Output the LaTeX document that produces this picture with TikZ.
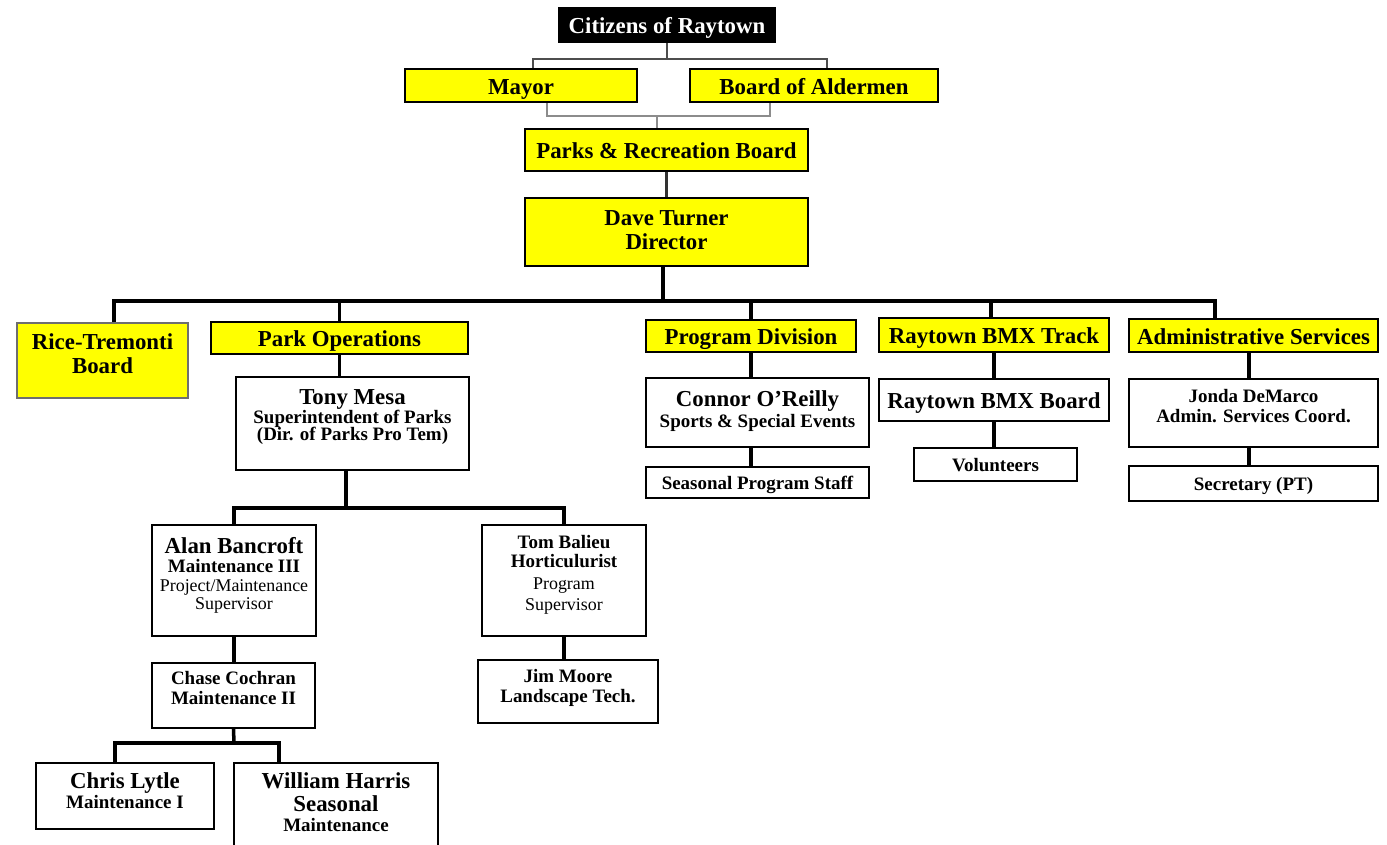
\documentclass[tikz,border=0pt]{standalone}
\usepackage{fontspec}
\setmainfont{Liberation Serif}
\usetikzlibrary{positioning}
\definecolor{ryellow}{HTML}{FFFF00}
\definecolor{dkline}{HTML}{4D4D4D}
\definecolor{ltline}{HTML}{8C8C8C}
\definecolor{riceedge}{HTML}{6E6E6E}
\newcommand{\bigfont}{\fontsize{13}{13.6}\selectfont\bfseries}
\newcommand{\smallfont}{\fontsize{10.8}{11}\selectfont\bfseries}
\newcommand{\plainfont}{\fontsize{10.2}{10.6}\selectfont\mdseries}

\begin{document}
\begin{tikzpicture}[x=0.02cm, y=-0.02cm,
  orgbox/.style={draw=black, line width=1.1pt, inner sep=1pt, align=center, font=\bigfont},
  yellowbox/.style={orgbox, fill=ryellow},
  whitebox/.style={orgbox, fill=white},
  sz/.style 2 args={minimum width=#1*0.02cm, minimum height=#2*0.02cm},
  bigline/.style={text height=11pt, text depth=0.8pt},
  smallline/.style={font=\smallfont, text height=9.2pt, text depth=0.8pt},
  topline/.style={dkline, line width=1pt},
  electline/.style={ltline, line width=1pt},
  midline/.style={black!80, line width=1.2pt},
  link/.style={black, line width=2pt}]

\useasboundingbox (0,0) rectangle (1387,845);
\clip (0,0) rectangle (1387,845);

% Top of the chart
\node[orgbox, bigline, fill=black, text=white, sz={216}{34}] (cit) at (667,25) {Citizens of Raytown};
\node[yellowbox, bigline, line width=1.6pt, sz={232}{33}] (mayor) at (521,85.5) {Mayor};
\node[yellowbox, bigline, line width=1.6pt, sz={248}{33}] (ald) at (814,85.5) {Board of Aldermen};
\node[yellowbox, bigline, sz={283}{42}] (prb) at (666.5,150) {Parks \& Recreation Board};
\node[yellowbox, sz={283}{68}] (dir) at (666.5,232) {Dave Turner\\Director\\[-11.3pt]};

\coordinate (citbar) at (667,59);
\coordinate (electbar) at (657,116);
\draw[topline] (cit.south) -- (citbar);
\draw[topline] ([xshift=0.24cm]mayor.north) |- (citbar) -| ([xshift=0.26cm]ald.north);
\draw[electline] ([xshift=0.52cm]mayor.south) |- (electbar) -| ([xshift=-0.88cm]ald.south);
\draw[electline] (electbar) -- (electbar |- prb.north);
\draw[midline] (prb.south) -- (dir.north);

% Divisions
\node[yellowbox, draw=riceedge, line width=0.8pt, sz={171}{75}] (rice) at (102.5,360.5) {Rice-Tremonti\\Board\\[-5.6pt]};
\node[yellowbox, bigline, sz={257}{32}] (parkops) at (339.5,338) {Park Operations};
\node[yellowbox, bigline, sz={210}{32}] (progdiv) at (751,336) {Program Division};
\node[yellowbox, bigline, sz={230}{34}] (bmxtrack) at (994,335) {Raytown BMX Track};
\node[yellowbox, bigline, sz={249}{33}] (admin) at (1253.5,335.5) {Administrative Services};

\coordinate (divbar) at (663,301);
\draw[link] (divbar |- dir.south) -- (divbar);
\draw[link] ([xshift=0.23cm]rice.north) |- (divbar) -| ([xshift=-0.77cm]admin.north);
\draw[link] (parkops.north) -- (parkops.north |- divbar);
\draw[link] (progdiv.north) -- (progdiv.north |- divbar);
\draw[link] ([xshift=-0.06cm]bmxtrack.north) -- ([xshift=-0.06cm]bmxtrack.north |- divbar);

% Park operations
\node[whitebox, sz={233}{93}] (tony) at (352.5,423.5)
  {Tony Mesa\\[-2.8pt]\smallfont Superintendent of Parks\\[-3.4pt]\smallfont (Dir. of Parks Pro Tem)\\[-4pt]};
\node[whitebox, sz={164}{111}] (alan) at (234,580.5)
  {Alan Bancroft\\[-2.8pt]\smallfont Maintenance III\\[-2.8pt]\plainfont Project/Maintenance\\[-3.4pt]\plainfont Supervisor\\[-5.8pt]};
\node[whitebox, font=\smallfont, sz={164}{111}] (tom) at (564,580.5)
  {Tom Balieu\\Horticulurist\\[1.1pt]\plainfont Program\\[1.1pt]\plainfont Supervisor\\[-2.2pt]};
\node[whitebox, font=\smallfont, sz={163}{65}] (chase) at (233.5,695.5) {Chase Cochran\\Maintenance II\\[-2.3pt]};
\node[whitebox, font=\smallfont, sz={180}{63}] (jim) at (568,691.5) {Jim Moore\\Landscape Tech.\\[-4.5pt]};
\node[whitebox, sz={178}{66}] (chris) at (125,796) {Chris Lytle\\[-1.7pt]\smallfont Maintenance I\\[-7.4pt]};
\node[whitebox, sz={204}{88}] (william) at (336,807) {William Harris\\Seasonal\\[-2.2pt]\smallfont Maintenance\\[-8pt]};

\coordinate (opsbar) at (346,508);
\coordinate (maintbar) at (234,743);
\draw[link] (parkops.south) -- (parkops.south |- tony.north);
\draw[link] ([xshift=-0.13cm]tony.south) -- (opsbar);
\draw[link] (alan.north) |- (opsbar) -| (tom.north);
\draw[link] (alan.south) -- (alan.south |- chase.north);
\draw[link] (tom.south) -- (tom.south |- jim.north);
\draw[link] (chase.south) -- (maintbar);
\draw[link] ([xshift=-0.2cm]chris.north) |- (maintbar) -| ([xshift=-1.14cm]william.north);

% Program division
\node[whitebox, sz={223}{69}] (connor) at (757.5,412.5) {Connor O'Reilly\\[-1.7pt]\smallfont Sports \& Special Events\\[-9.7pt]};
\node[whitebox, smallline, sz={223}{31}] (staff) at (757.5,482.5) {Seasonal Program Staff};
\draw[link] (progdiv.south) -- (progdiv.south |- connor.north);
\draw[link] (progdiv.south |- connor.south) -- (progdiv.south |- staff.north);

% BMX track
\node[whitebox, bigline, sz={230}{42}] (bmxboard) at (994,400) {Raytown BMX Board};
\node[whitebox, smallline, sz={163}{33}] (volunteers) at (995.5,464.5) {Volunteers};
\draw[link] (bmxtrack.south) -- (bmxboard.north);
\draw[link] (bmxboard.south) -- (bmxboard.south |- volunteers.north);

% Administrative services
\node[whitebox, font=\smallfont, sz={249}{68}] (jonda) at (1253.5,413) {Jonda DeMarco\\Admin. Services Coord.\\[-2.8pt]};
\node[whitebox, smallline, sz={249}{35}] (secretary) at (1253.5,483.5) {Secretary (PT)};
\draw[link] ([xshift=-0.09cm]admin.south) -- ([xshift=-0.09cm]jonda.north);
\draw[link] ([xshift=-0.09cm]jonda.south) -- ([xshift=-0.09cm]secretary.north);

\end{tikzpicture}
\end{document}
